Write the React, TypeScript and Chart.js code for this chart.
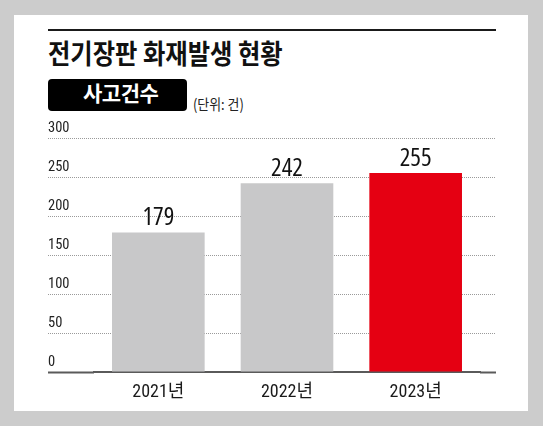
import React, { useEffect, useRef } from 'react';
import { Chart, registerables } from 'chart.js';

Chart.register(...registerables);

const categories = ['2021년', '2022년', '2023년'];
const fireCounts = [179, 242, 255];
const barColors = ['#c8c8c9', '#c8c8c9', '#e50012'];
const yTicks = [0, 50, 100, 150, 200, 250, 300];
const titleText = '전기장판 화재발생 현황';
const badgeText = '사고건수';
const unitText = '(단위: 건)';

const NUM_FONT = "'Open Sans', 'Noto Sans CJK KR', sans-serif";
const AXIS_FONT = "'Roboto Condensed', 'Noto Sans CJK KR', sans-serif";
const KR_FONT = "'Noto Sans CJK KR', 'Noto Sans', sans-serif";

const isZero = (c: any) => c && c.tick && c.tick.value === 0;

const valueLabels = {
  id: 'valueLabels',
  afterDatasetsDraw(chart: any) {
    const ctx = chart.ctx;
    const meta = chart.getDatasetMeta(0);
    const data = chart.data.datasets[0].data;
    ctx.save();
    ctx.font = `25px ${NUM_FONT}`;
    (ctx as any).fontStretch = 'condensed';
    ctx.fillStyle = '#111111';
    ctx.textAlign = 'center';
    ctx.textBaseline = 'alphabetic';
    meta.data.forEach((bar: any, i: number) => {
      ctx.fillText(String(data[i]), bar.x, bar.y - 7.5);
    });
    ctx.restore();
  },
};

export default function App() {
  const canvasRef = useRef<HTMLCanvasElement | null>(null);

  useEffect(() => {
    if (!canvasRef.current) return;
    const step = yTicks[1] - yTicks[0];
    const tickStyle = {
      tickColor: (c: any) => (isZero(c) ? '#5a5a5a' : '#9a9a9a'),
      tickWidth: (c: any) => (isZero(c) ? 2 : 1),
      tickBorderDash: (c: any) => (isZero(c) ? [] : [1, 1]),
    };
    const chart = new Chart(canvasRef.current, {
      type: 'bar',
      data: {
        labels: categories,
        datasets: [
          {
            data: fireCounts,
            backgroundColor: barColors,
            borderWidth: 0,
            barPercentage: 0.72,
            categoryPercentage: 1,
          },
        ],
      },
      options: {
        responsive: false,
        animation: false,
        layout: { padding: { top: 138, left: 48, right: 47, bottom: 12.3 } },
        plugins: {
          legend: { display: false },
          tooltip: { enabled: false },
          title: { display: false },
        },
        scales: {
          x: {
            grid: { display: false, drawTicks: false },
            border: { display: true, color: '#5a5a5a', width: 2 },
            ticks: {
              font: { family: AXIS_FONT, size: 18 },
              color: '#1a1a1a',
              padding: 10,
            },
          },
          y: {
            position: 'left',
            min: yTicks[0],
            max: yTicks[yTicks.length - 1],
            ticks: {
              stepSize: step,
              font: { family: AXIS_FONT, size: 14.5 },
              color: '#222222',
              crossAlign: 'far',
              padding: 0,
              labelOffset: -10,
            },
            grid: {
              color: (c: any) => (isZero(c) ? 'rgba(0,0,0,0)' : '#9a9a9a'),
              lineWidth: 1,
              drawTicks: true,
              tickLength: 46,
              ...tickStyle,
            },
            border: { display: false, dash: [1, 1] },
            afterFit: (scale: any) => {
              scale.width = 46;
            },
          },
          yRight: {
            position: 'right',
            min: yTicks[0],
            max: yTicks[yTicks.length - 1],
            ticks: { display: false, stepSize: step },
            grid: {
              drawOnChartArea: false,
              drawTicks: true,
              tickLength: 16,
              ...tickStyle,
            },
            border: { display: false },
            afterFit: (scale: any) => {
              scale.width = 16;
            },
          },
        },
      } as any,
      plugins: [valueLabels],
    });
    return () => chart.destroy();
  }, []);

  return (
    <div
      style={{
        position: 'absolute',
        left: 0,
        top: 0,
        width: 543,
        height: 426,
        background: '#cccccc',
        overflow: 'hidden',
      }}
    >
      <div style={{ position: 'absolute', left: 14, top: 15, width: 514, height: 396, background: '#ffffff' }} />
      <div style={{ position: 'absolute', left: 48, top: 29, width: 448, height: 2, background: '#1a1a1a' }} />
      <div
        style={{
          position: 'absolute',
          left: 48,
          top: 37,
          fontFamily: KR_FONT,
          fontWeight: 700,
          fontSize: 27,
          lineHeight: '32px',
          color: '#111111',
          whiteSpace: 'nowrap',
          transform: 'scaleX(0.9)',
          transformOrigin: 'left top',
        }}
      >
        {titleText}
      </div>
      <div
        style={{
          position: 'absolute',
          left: 47.5,
          top: 78.5,
          width: 139,
          height: 32.5,
          background: '#000000',
          borderRadius: 4,
        }}
      />
      <div
        style={{
          position: 'absolute',
          left: 83,
          top: 82,
          fontFamily: KR_FONT,
          fontWeight: 700,
          fontSize: 21,
          lineHeight: '21px',
          color: '#ffffff',
          whiteSpace: 'nowrap',
          letterSpacing: -0.5,
        }}
      >
        {badgeText}
      </div>
      <div
        style={{
          position: 'absolute',
          left: 193,
          top: 96,
          fontFamily: KR_FONT,
          fontSize: 15,
          lineHeight: '15px',
          color: '#222222',
          whiteSpace: 'nowrap',
          transform: 'scaleX(0.86)',
          transformOrigin: 'left top',
        }}
      >
        {unitText}
      </div>
      <canvas
        ref={canvasRef}
        width={543}
        height={426}
        style={{ position: 'absolute', left: 0, top: 0, width: 543, height: 426 }}
      />
    </div>
  );
}
